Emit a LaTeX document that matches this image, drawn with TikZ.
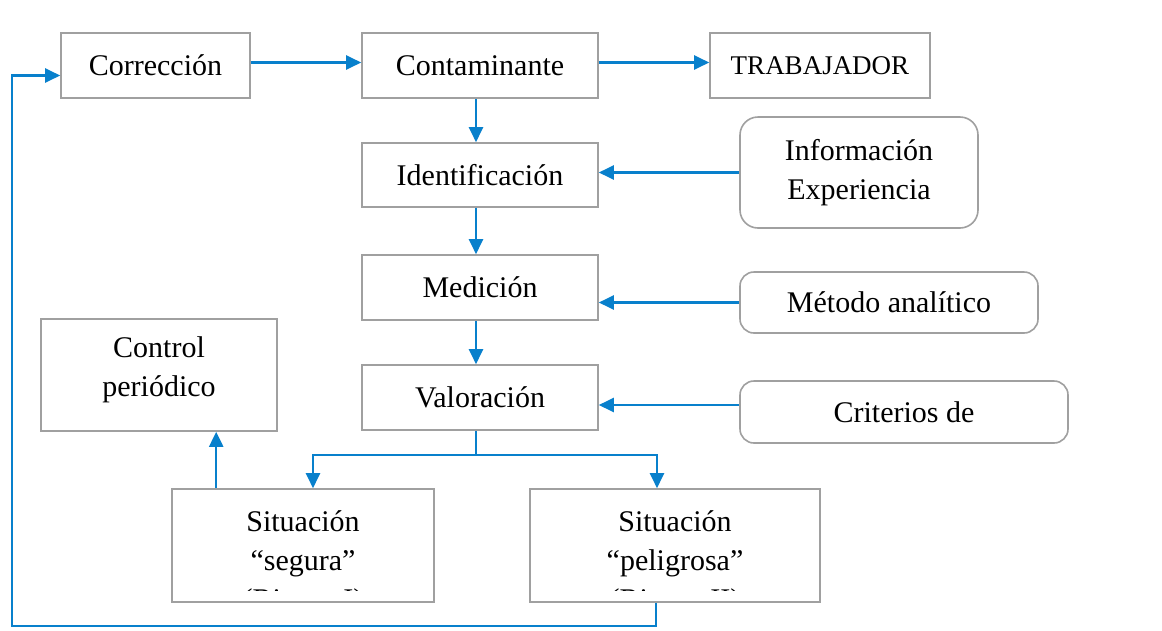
\documentclass[tikz,border=0pt]{standalone}
\usepackage{fontspec}
\setmainfont{Liberation Serif}
\usetikzlibrary{arrows.meta,calc}
\definecolor{lineblue}{RGB}{8,128,204}
\definecolor{boxgray}{RGB}{160,160,160}
\tikzset{
  box/.style={draw=boxgray, line width=1.6pt, inner sep=0pt, align=center,
    font=\fontsize{30}{39}\selectfont},
  rbox/.style={box, rounded corners=18pt},
  txt/.style={inner sep=0pt, align=center, font=\fontsize{30}{39}\selectfont},
  arr/.style={draw=lineblue, line width=2.2pt, -{Triangle[length=15pt,width=14pt]}},
  ln/.style={draw=lineblue, line width=2.2pt}
}
\begin{document}
\begin{tikzpicture}[x=1pt,y=-1pt]
\useasboundingbox[fill=white] (0,0) rectangle (1162,630);
% top row
\node[box, minimum width=189pt, minimum height=65pt] (corr) at (155.5,65.5) {Corrección};
\node[box, minimum width=236pt, minimum height=65pt] (cont) at (480,65.5) {Contaminante};
\node[box, minimum width=220pt, minimum height=65pt, font=\fontsize{27}{35}\selectfont] (trab) at (820,65.5) {TRABAJADOR};
% central column
\node[box, minimum width=236pt, minimum height=64pt] (ident) at (480,175) {Identificación};
\node[box, minimum width=236pt, minimum height=65pt] (med) at (480,287.5) {Medición};
\node[box, minimum width=236pt, minimum height=65pt] (val) at (480,397.5) {Valoración};
% right column
\node[rbox, minimum width=238pt, minimum height=111pt] (info) at (859,172.5) {Información\\Experiencia};
\node[rbox, minimum width=298pt, minimum height=61pt, rounded corners=14pt] (metodo) at (889,302.5) {Método analítico};
\node[rbox, minimum width=328pt, minimum height=62pt, rounded corners=14pt] (crit) at (904,412) {Criterios de};
% control
\node[draw=boxgray, line width=1.6pt, minimum width=236pt, minimum height=112pt, inner sep=0pt] (ctrl) at (159,375) {};
\node[txt, anchor=north] (ctrltxt) at (ctrl.north |- 0,336) {Control\\periódico};
% situations
\node[draw=boxgray, line width=1.6pt, minimum width=262pt, minimum height=113pt, inner sep=0pt] (seg) at (303,545.5) {};
\node[draw=boxgray, line width=1.6pt, minimum width=290pt, minimum height=113pt, inner sep=0pt] (pel) at (675,545.5) {};
\begin{scope}
\clip (173,490) rectangle (433,590);
\node[txt, anchor=north] (segtxt) at (seg.north |- 0,510) {Situación\\“segura”\\(Riesgo I)};
\end{scope}
\begin{scope}
\clip (531,490) rectangle (819,590);
\node[txt, anchor=north] (peltxt) at (pel.north |- 0,510) {Situación\\“peligrosa”\\(Riesgo II)};
\end{scope}
% connectors
\draw[arr] ([yshift=3pt]corr.east) -- ([yshift=3pt]cont.west);
\draw[arr] ([yshift=3pt]cont.east) -- ([yshift=3pt]trab.west);
\draw[arr] ([xshift=-4pt]cont.south) -- ([xshift=-4pt]ident.north);
\draw[arr] ([xshift=-4pt]ident.south) -- ([xshift=-4pt]med.north);
\draw[arr] ([xshift=-4pt]med.south) -- ([xshift=-4pt]val.north);
\draw[arr] (info.west) -- (info.west -| ident.east);
\draw[arr] (metodo.west) -- (metodo.west -| med.east);
\draw[arr] ([yshift=7pt]crit.west) -- ([yshift=7pt]crit.west -| val.east);
\coordinate (split) at ([xshift=-4pt]val.south |- 0,455);
\draw[ln] ([xshift=-4pt]val.south) -- (split);
\draw[arr] (split) -| ([xshift=10pt]seg.north);
\draw[arr] (split) -| ([xshift=-18pt]pel.north);
\coordinate (up) at ([xshift=45pt]seg.north west);
\draw[arr] (up) -- (up |- ctrl.south);
\coordinate (fbL) at (12,626);
\draw[arr] ([xshift=-19pt]pel.south) |- (fbL) |- ([yshift=-10pt]corr.west);
\end{tikzpicture}
\end{document}
